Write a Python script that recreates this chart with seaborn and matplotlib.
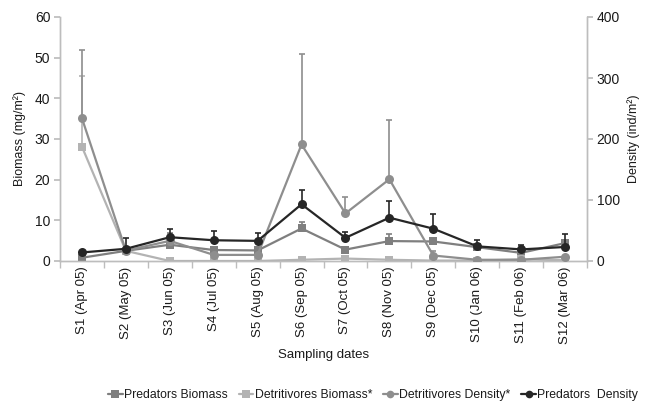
import numpy as np
import pandas as pd
import matplotlib
matplotlib.use("Agg")
import matplotlib.pyplot as plt
from matplotlib.lines import Line2D
import seaborn as sns

# Sampling dates
dates = ["S1 (Apr 05)", "S2 (May 05)", "S3 (Jun 05)", "S4 (Jul 05)", "S5 (Aug 05)",
         "S6 (Sep 05)", "S7 (Oct 05)", "S8 (Nov 05)", "S9 (Dec 05)", "S10 (Jan 06)",
         "S11 (Feb 06)", "S12 (Mar 06)"]

# Biomass (mg/m2), left axis
pred_biomass = [0.8, 2.5, 4.0, 2.7, 2.6, 8.0, 2.8, 4.9, 4.8, 3.4, 2.0, 4.4]
pred_biomass_err = [0.0, 0.0, 2.8, 0.0, 0.0, 1.6, 0.0, 1.8, 0.0, 0.0, 0.0, 0.0]
det_biomass = [28.1, 2.5, 0.0, 0.0, 0.0, 0.3, 0.6, 0.3, 0.1, 0.1, 0.4, 0.2]
det_biomass_err = [17.3, 0.0, 0.0, 0.0, 0.0, 0.0, 0.0, 0.0, 0.0, 0.0, 0.0, 0.0]

# Density (ind/m2), right axis
det_density = [234, 17, 33, 10, 10, 191, 78, 134, 9, 2, 2, 7]
det_density_err = [112, 0, 0, 0, 0, 148, 27, 97, 7, 0, 0, 0]
pred_density = [14, 20, 39, 34, 33, 93, 38, 71, 53, 24, 19, 23]
pred_density_err = [0, 18, 13, 15, 13, 23, 9, 28, 24, 11, 8, 21]

labels = ["Predators Biomass", "Detritivores Biomass*", "Detritivores Density*", "Predators  Density"]
colors = ["#7f7f7f", "#b3b3b3", "#8e8e8e", "#262626"]
markers = ["s", "s", "o", "o"]

x = np.arange(len(dates))
bio = pd.DataFrame({
    "x": np.concatenate([x, x]),
    "value": pred_biomass + det_biomass,
    "series": [labels[0]] * len(x) + [labels[1]] * len(x),
})
den = pd.DataFrame({
    "x": np.concatenate([x, x]),
    "value": det_density + pred_density,
    "series": [labels[2]] * len(x) + [labels[3]] * len(x),
})

sns.set_theme(style="white")
plt.rcParams["font.family"] = ["Liberation Sans", "DejaVu Sans"]

fig, ax = plt.subplots(figsize=(6.46, 4.08), dpi=100)
fig.subplots_adjust(left=60 / 646, right=587 / 646, top=1 - 17 / 408, bottom=1 - 261 / 408)
ax2 = ax.twinx()

# upward-only error bars drawn first so the lines sit on top
def up_err(axis, vals, errs, color):
    errs = np.asarray(errs, float)
    mask = errs > 0
    axis.errorbar(x[mask], np.asarray(vals, float)[mask],
                  yerr=[np.zeros(mask.sum()), errs[mask]],
                  fmt="none", ecolor=color, elinewidth=1.2, capsize=2.5, capthick=1.2, zorder=2)

up_err(ax, pred_biomass, pred_biomass_err, colors[0])
up_err(ax, det_biomass, det_biomass_err, colors[1])
up_err(ax2, det_density, det_density_err, colors[2])
up_err(ax2, pred_density, pred_density_err, colors[3])

sns.lineplot(data=bio, x="x", y="value", hue="series", style="series",
             palette=dict(zip(labels[:2], colors[:2])),
             markers=dict(zip(labels[:2], markers[:2])), dashes=False,
             markersize=6, markeredgewidth=0, linewidth=1.6, ax=ax, legend=False, zorder=3)
sns.lineplot(data=den, x="x", y="value", hue="series", style="series",
             palette=dict(zip(labels[2:], colors[2:])),
             markers=dict(zip(labels[2:], markers[2:])), dashes=False,
             markersize=6.5, markeredgewidth=0, linewidth=1.6, ax=ax2, legend=False, zorder=3)

spine_c = "#bdbdbd"
text_c = "#1a1a1a"
for a in (ax, ax2):
    a.set_xlim(-0.5, len(dates) - 0.5)
    for s in a.spines.values():
        s.set_color(spine_c)
        s.set_linewidth(1.0)
    a.spines["top"].set_visible(False)

ax.set_ylim(0, 60)
ax.set_yticks(np.arange(0, 61, 10))
ax2.set_ylim(0, 400)
ax2.set_yticks(np.arange(0, 401, 100))

ax.set_xticks(x)
ax.set_xticklabels(dates, rotation=90, fontsize=9.5, color=text_c)
ax.set_xticks(np.arange(-0.5, len(dates)), minor=True)
ax.tick_params(axis="x", which="major", length=0, pad=4)
ax.tick_params(axis="x", which="minor", length=5, color=spine_c, direction="out", bottom=True)
ax.tick_params(axis="y", length=4, color=spine_c, labelsize=10, labelcolor=text_c, left=True, pad=3)
ax2.tick_params(axis="y", length=4, color=spine_c, labelsize=10, labelcolor=text_c, right=True, pad=3)

ax.set_xlabel("Sampling dates", fontsize=9.5, color=text_c, labelpad=4)
ax.set_ylabel("Biomass (mg/m²)", fontsize=9, color=text_c, labelpad=6)
ax2.set_ylabel("Density (ind/m²)", fontsize=9, color=text_c, labelpad=5)

handles = [Line2D([0], [0], color=c, marker=m, markersize=5.5, markeredgewidth=0, linewidth=1.6)
           for c, m in zip(colors, markers)]
fig.legend(handles, labels, loc="center", bbox_to_anchor=(373 / 646, 1 - 395 / 408),
           ncol=4, frameon=False, fontsize=8.8, handlelength=1.2, handletextpad=0.1,
           columnspacing=0.9, labelcolor=text_c)

fig.savefig("out.png", dpi=100, facecolor="white")
